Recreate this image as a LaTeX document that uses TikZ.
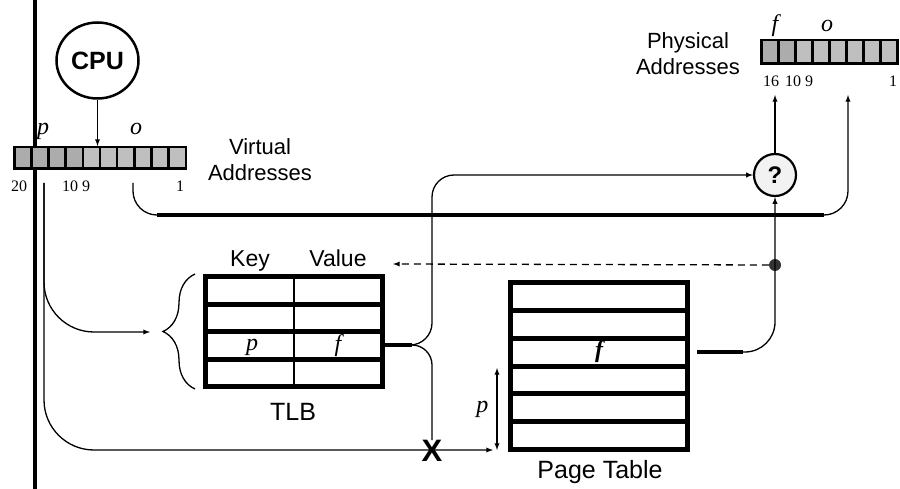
\documentclass[tikz,border=0pt]{standalone}
\usepackage{fontspec}
\setmainfont{Liberation Sans}
\newfontfamily\timesfont{Liberation Serif}
\usetikzlibrary{arrows}
\usetikzlibrary{positioning}
\usetikzlibrary{shapes.geometric}
\usetikzlibrary{decorations.pathreplacing}
\tikzset{regcell/.style = {draw=black, line width=2.5pt},
         txt/.style = {font=\fontsize{22}{26}\selectfont, inner sep=0pt},
         bigtxt/.style = {font=\fontsize{25}{25}\selectfont, inner sep=0pt},
         num/.style = {font=\timesfont\fontsize{16}{16}\selectfont, inner sep=0pt},
         italvar/.style = {font=\timesfont\itshape\fontsize{24}{24}\selectfont, inner sep=0pt},
         wire/.style = {line width=1.3pt},
         tablebox/.style = {draw, line width=5pt, inner sep=0pt}}

\begin{document}
\begin{tikzpicture}[x=1pt, y=-1pt]
  \useasboundingbox (0, 0) rectangle (900, 489);

  \draw [line width=4pt] (35, 0) -- (35, 489);

  \foreach \i in {0, ..., 3}
    \filldraw [regcell, fill=gray!65] (14.25 + 17.15*\i, 147.25) rectangle ++(17.15, 21.5);
  \foreach \i in {4, ..., 9}
    \filldraw [regcell, fill=gray!50] (14.25 + 17.15*\i, 147.25) rectangle ++(17.15, 21.5);
  \foreach \i in {0, 1}
    \filldraw [regcell, fill=gray!65] (761.25 + 17.06*\i, 40.25) rectangle ++(17.06, 23.5);
  \foreach \i in {2, ..., 7}
    \filldraw [regcell, fill=gray!50] (761.25 + 17.06*\i, 40.25) rectangle ++(17.06, 23.5);

  \node [draw, ellipse, line width=2.5pt, minimum width=82pt, minimum height=76pt, inner sep=0pt,
         font=\bfseries\fontsize{25}{25}\selectfont] (cpu) at (97.5, 60.5) {CPU};
  \coordinate (va in) at (97.5, 146);
  \draw [wire, -latex] (cpu) -- (va in);

  \node [italvar, anchor=base] (va p) at (43, 135) {p};
  \node [italvar, anchor=base] (va o) at (136, 135) {o};
  \node [num, anchor=base] (va 20) at (19, 192) {20};
  \node [num, anchor=base] (va 10) at (76, 192) {10 9};
  \node [num, anchor=base] (va 1) at (180, 192) {1};
  \node [txt, align=center, anchor=base] (va label) at (260, 181) {Virtual\\Addresses};

  \node [italvar, anchor=base] (pa f) at (775, 32) {f};
  \node [italvar, anchor=base] (pa o) at (827, 32) {o};
  \node [num, anchor=base] (pa 16) at (771, 87) {16};
  \node [num, anchor=base] (pa 10) at (799, 87) {10 9};
  \node [num, anchor=base] (pa 1) at (893, 87) {1};
  \node [txt, align=center, anchor=base] (pa label) at (688, 75) {Physical\\Addresses};

  \node [tablebox, minimum width=177pt, minimum height=110pt] (tlb) at (294, 331.5) {};
  \foreach \y in {304, 331.5, 359}
    \draw [line width=5pt] (205.5, \y) -- (382.5, \y);
  \draw [line width=1.5pt] (294, 276.5) -- (294, 386.5);
  \node [txt, font=\fontsize{23}{23}\selectfont, anchor=base] (key) at (250, 267) {Key};
  \node [txt, font=\fontsize{23}{23}\selectfont, anchor=base] (value) at (338, 267) {Value};
  \node [bigtxt, anchor=base] (tlb label) at (293, 420) {TLB};
  \node [italvar] (tlb p) at (252, 347) {p};
  \node [italvar] (tlb f) at (338, 346) {f};
  \draw [decorate, decoration={brace, amplitude=32pt}, line width=1.3pt] (195, 389) -- (195, 274);

  \node [tablebox, minimum width=177pt, minimum height=167pt] (pt) at (599, 366) {};
  \foreach \y in {310.3, 338.2, 366, 393.8, 421.7}
    \draw [line width=5pt] (510.5, \y) -- (687.5, \y);
  \node [font=\timesfont\bfseries\itshape\fontsize{24}{24}\selectfont, inner sep=0pt] (pt f) at (599, 352) {f};
  \node [bigtxt, anchor=base] (pt label) at (600, 478) {Page Table};

  \node [draw, circle, fill=gray!10, line width=2.2pt, minimum size=42pt, inner sep=0pt,
         font=\bfseries\fontsize{24}{24}\selectfont] (q) at (775, 175) {?};
  \node [circle, fill=black!80, minimum size=12pt, inner sep=0pt] (dot) at (775, 265) {};
  \node [font=\bfseries\fontsize{31}{31}\selectfont, inner sep=0pt] (miss) at (432, 451) {X};

  \coordinate (p tap) at (44, 183);
  \coordinate (o tap) at (133, 183);
  \coordinate (tlb in) at (150, 332);
  \coordinate (pt in) at (493, 450);
  \coordinate (tlb out) at (385, 345);
  \coordinate (split) at (412, 345);
  \coordinate (pt out) at (697, 352);
  \coordinate (pt bend) at (743, 352);
  \coordinate (tlb back) at (393, 264);
  \coordinate (pa f in) at (775, 95);
  \coordinate (pa o in) at (848, 95);

  \draw [wire, rounded corners=50pt, -latex] (p tap) |- (tlb in);
  \draw [wire, rounded corners=50pt, -latex] (p tap) |- (pt in);
  \draw [wire, latex-latex] (497, 368) -- (497, 450) node [italvar, midway, left=8pt] (pt p) {p};

  \draw [wire, rounded corners=24pt, -latex] (o tap) |- (848, 215) -- (pa o in);
  \draw [line width=3.5pt] (157, 215) -- (824, 215);

  \draw [line width=3.5pt] (tlb out) -- (split);
  \draw [wire, rounded corners=22pt, -latex] (split) -| (432, 250) |- (q);
  \draw [wire, rounded corners=20pt] (split) -| (miss);

  \draw [line width=3.5pt] (pt out) -- (pt bend);
  \draw [wire, rounded corners=30pt, -latex] (pt bend) -| (q);
  \draw [wire, dashed, dash pattern=on 7pt off 5pt, -latex] (dot) -- (tlb back);
  \draw [wire, -latex] (q) -- (pa f in);
\end{tikzpicture}
\end{document}
